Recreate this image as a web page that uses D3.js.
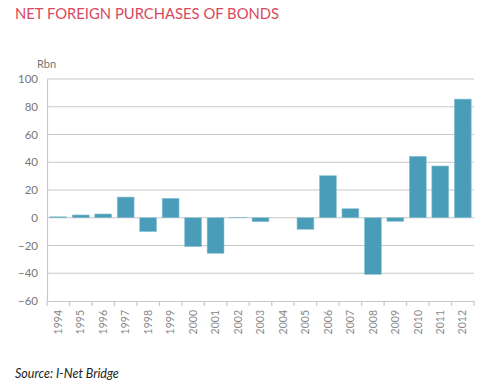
<!DOCTYPE html>
<html>
<head>
<meta charset="utf-8">
<script src="https://cdn.jsdelivr.net/npm/d3@7"></script>
<style>
  body { margin: 0; background: #fff; }
  svg { display: block; font-family: Lato, "Noto Sans", sans-serif; }
</style>
</head>
<body>
<svg id="chart" width="500" height="388"></svg>
<script>
// years and net purchases (Rbn)
var years = ["1994","1995","1996","1997","1998","1999","2000","2001","2002","2003","2004","2005","2006","2007","2008","2009","2010","2011","2012"];
var values = [0.7, 2, 2.7, 14.9, -10, 14, -20.8, -25.6, 0.3, -2.8, 0, -8.3, 30.3, 6.5, -40.8, -2.6, 44.3, 37.3, 85.5];
var yTicks = [-60, -40, -20, 0, 20, 40, 60, 80, 100];

var svg = d3.select("#chart");

// plot edges (top is taken by window.top, so use other names)
var plotL = 47, plotR = 474, plotT = 79, plotB = 301;

var x = d3.scaleBand().domain(years).range([plotL, plotR]).paddingInner(0.25).paddingOuter(0.125);
var y = d3.scaleLinear().domain([-60, 100]).range([plotB, plotT]);

// title
svg.append("text")
  .attr("x", 15).attr("y", 19)
  .style("font-size", "14.8px")
  .style("fill", "#d9485c")
  .text("NET FOREIGN PURCHASES OF BONDS");

svg.append("text")
  .attr("x", 37).attr("y", 68)
  .style("font-size", "11px")
  .style("fill", "#777")
  .text("Rbn");

// gridlines
svg.append("g").selectAll("line")
  .data(yTicks.filter(function(d) { return d > -60; }))
  .enter().append("line")
  .attr("x1", plotL).attr("x2", plotR)
  .attr("y1", function(d) { return y(d); })
  .attr("y2", function(d) { return y(d); })
  .style("stroke", "#c8c8c8")
  .style("stroke-width", 1.2);

// y axis
var yAxis = svg.append("g")
  .attr("transform", "translate(" + plotL + ",0)")
  .call(d3.axisLeft(y).tickValues(yTicks).tickSize(0).tickPadding(9));
yAxis.select(".domain").style("stroke", "#c8c8c8").style("stroke-width", 1.2);
yAxis.selectAll("text").style("font-size", "11.5px").style("fill", "#777").style("font-family", "Lato, 'Noto Sans', sans-serif");

// x axis
var xAxis = svg.append("g")
  .attr("transform", "translate(0," + plotB + ")")
  .call(d3.axisBottom(x).tickSize(0));
xAxis.select(".domain").style("stroke", "#c8c8c8").style("stroke-width", 1.2);
xAxis.selectAll("text")
  .attr("transform", "rotate(-90)")
  .attr("x", -9).attr("y", 0).attr("dy", "0.35em")
  .style("text-anchor", "end")
  .style("font-size", "10.5px").style("fill", "#888")
  .style("font-family", "Lato, 'Noto Sans', sans-serif");

// tick marks between bands
var step = x.step();
svg.append("g").selectAll("line")
  .data(d3.range(years.length + 1))
  .enter().append("line")
  .attr("x1", function(i) { return plotL + i * step; })
  .attr("x2", function(i) { return plotL + i * step; })
  .attr("y1", plotB).attr("y2", plotB + 5)
  .style("stroke", "#c8c8c8").style("stroke-width", 1.2);

// bars
svg.append("g").selectAll("rect")
  .data(values)
  .enter().append("rect")
  .attr("x", function(d, i) { return x(years[i]); })
  .attr("width", x.bandwidth())
  .attr("y", function(d) { return y(Math.max(0, d)); })
  .attr("height", function(d) { return Math.abs(y(d) - y(0)); })
  .style("fill", "#4a9db9")
  .style("stroke", "#8cc3d4")
  .style("stroke-width", 0.6);

// source
svg.append("text")
  .attr("x", 15).attr("y", 378)
  .style("font-size", "12.5px")
  .style("font-style", "italic")
  .style("fill", "#222")
  .text("Source: I-Net Bridge");
</script>
</body>
</html>
